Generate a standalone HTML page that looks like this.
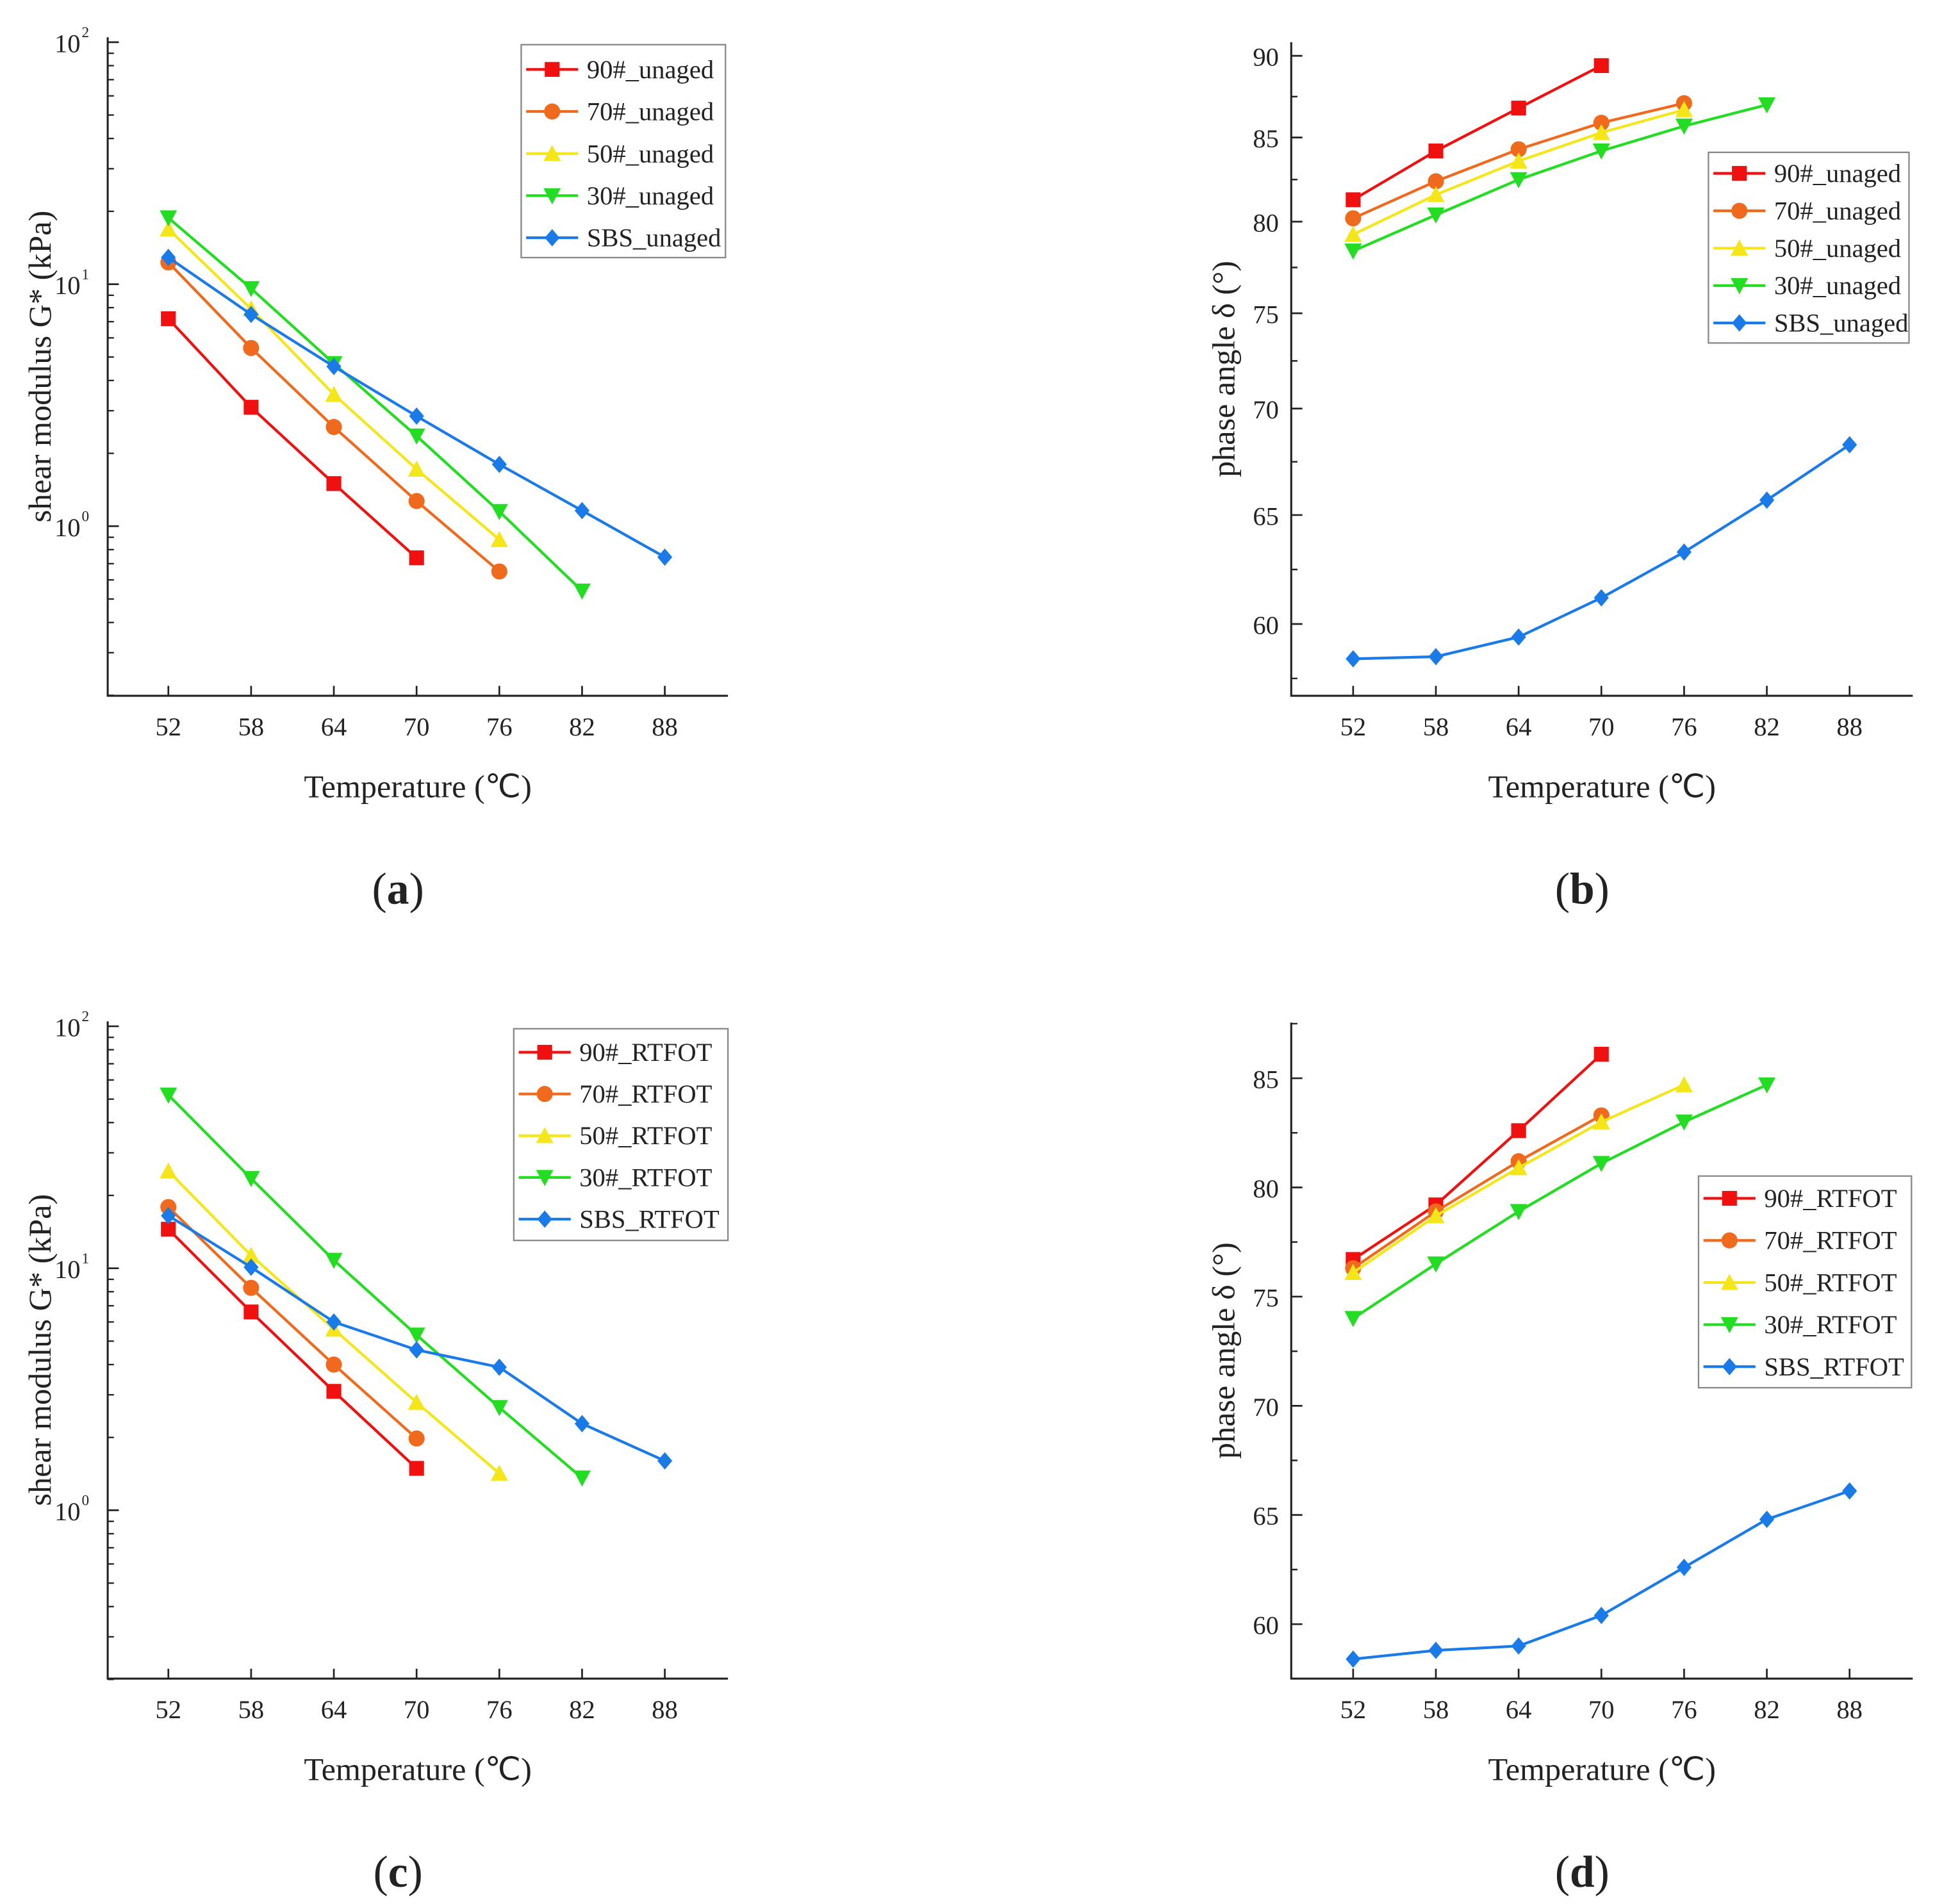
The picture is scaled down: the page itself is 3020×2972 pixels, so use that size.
<!DOCTYPE html>
<html><head><meta charset="utf-8">
<style>
html,body{margin:0;padding:0;background:#fff;}
svg{display:block;}
text{font-family:"Liberation Serif",serif;fill:#222;}
</style></head>
<body>
<svg id="fig" width="3020" height="2972" viewBox="0 0 1563 1538" xmlns="http://www.w3.org/2000/svg"></svg>
<script>
// ---- data ----
const temps = [52, 58, 64, 70, 76, 82, 88];
const seriesNames = ['90#', '70#', '50#', '30#', 'SBS'];
// panel a: G* unaged (kPa)
const gUnaged90 = [7.2, 3.1, 1.5, 0.74];
const gUnaged70 = [12.3, 5.45, 2.57, 1.27, 0.65];
const gUnaged50 = [16.9, 7.9, 3.5, 1.72, 0.88];
const gUnaged30 = [18.8, 9.6, 4.7, 2.36, 1.15, 0.54];
const gUnagedSBS = [12.9, 7.5, 4.57, 2.85, 1.8, 1.16, 0.745];
// panel b: phase angle unaged
const pUnaged90 = [81.3, 84.2, 86.8, 89.4];
const pUnaged70 = [80.2, 82.4, 84.3, 85.9, 87.1];
const pUnaged50 = [79.3, 81.6, 83.6, 85.3, 86.7];
const pUnaged30 = [78.4, 80.4, 82.5, 84.2, 85.7, 87.0];
const pUnagedSBS = [58.4, 58.5, 59.4, 61.2, 63.3, 65.7, 68.3];
// panel c: G* RTFOT
const gRtfot90 = [14.5, 6.6, 3.1, 1.49];
const gRtfot70 = [17.9, 8.3, 4.0, 1.98];
const gRtfot50 = [25.2, 11.3, 5.6, 2.79, 1.42];
const gRtfot30 = [52, 23.5, 10.8, 5.3, 2.66, 1.36];
const gRtfotSBS = [16.5, 10.1, 6.0, 4.6, 3.9, 2.28, 1.6];
// panel d: phase angle RTFOT
const pRtfot90 = [76.7, 79.2, 82.6, 86.1];
const pRtfot70 = [76.3, 78.9, 81.2, 83.3];
const pRtfot50 = [76.1, 78.7, 80.9, 83.0, 84.7];
const pRtfot30 = [74.0, 76.5, 78.9, 81.1, 83.0, 84.7];
const pRtfotSBS = [58.4, 58.8, 59.0, 60.4, 62.6, 64.8, 66.1];
// tick labels
const phaseTicksB = [60, 65, 70, 75, 80, 85, 90];
const phaseTicksD = [60, 65, 70, 75, 80, 85];
const logTicks = [0, 1, 2];

const colors = ['#f01010', '#f06a1e', '#f5e61a', '#22dd22', '#1a7ae8'];
const markers = ['square', 'circle', 'up', 'down', 'diamond'];
const NS = 'http://www.w3.org/2000/svg';
const svg = document.getElementById('fig');
function mk(tag, attrs, parent) {
  const e = document.createElementNS(NS, tag);
  for (const k in attrs) e.setAttribute(k, attrs[k]);
  (parent || svg).appendChild(e);
  return e;
}
function marker(g, type, x, y, c) {
  const s = 6;
  let e;
  if (type === 'square') e = mk('rect', {x: x - s, y: y - s, width: 2 * s, height: 2 * s, fill: c}, g);
  else if (type === 'circle') e = mk('circle', {cx: x, cy: y, r: s + 0.5, fill: c}, g);
  else if (type === 'up') e = mk('polygon', {points: `${x},${y - s - 1} ${x - s - 1},${y + s} ${x + s + 1},${y + s}`, fill: c}, g);
  else if (type === 'down') e = mk('polygon', {points: `${x},${y + s + 1} ${x - s - 1},${y - s} ${x + s + 1},${y - s}`, fill: c}, g);
  else e = mk('polygon', {points: `${x},${y - s - 1} ${x + s},${y} ${x},${y + s + 1} ${x - s},${y}`, fill: c}, g);
  
  
}

function panel(o) {
  const g = mk('g', {});
  
  
  const xS = t => o.x52 + (t - 52) * (o.x88 - o.x52) / 36;
  const yS = o.yS;
  // axes
  const ax = mk('path', {d: `M${o.left},${o.top} L${o.left},${o.bottom} L${o.right},${o.bottom}`, stroke: '#222', 'stroke-width': 1.6, fill: 'none'}, g);
  
  
  // x ticks
  temps.forEach(t => {
    const x = xS(t);
    mk('line', {x1: x, y1: o.bottom, x2: x, y2: o.bottom - 8, stroke: '#222', 'stroke-width': 1.4}, g);
    const tx = mk('text', {x: x, y: o.bottom + 32, 'font-size': 21, 'text-anchor': 'middle'}, g);
    tx.textContent = t;
    
    
  });
  const xt = mk('text', {x: (o.left + o.right) / 2, y: o.bottom + 82, 'font-size': 26, 'text-anchor': 'middle'}, g);
  xt.textContent = 'Temperature (℃)';
  
  
  // y ticks
  o.yTicks(g, yS);
  const yt = mk('text', {x: 0, y: 0, 'font-size': 26, 'text-anchor': 'middle', transform: `translate(${o.left - 46},${(o.top + o.bottom) / 2}) rotate(-90)`}, g);
  yt.textContent = o.ytitle;
  
  
  // series
  o.series.forEach((vals, i) => {
    const pts = vals.map((v, j) => [xS(temps[j]), yS(v)]);
    const pl = mk('polyline', {points: pts.map(p => p.join(',')).join(' '), fill: 'none', stroke: colors[i], 'stroke-width': 2.2}, g);
    
    
    pts.forEach(p => marker(g, markers[i], p[0], p[1], colors[i]));
  });
  // legend
  const L = o.legend;
  const lg = mk('g', {}, g);
  
  
  mk('rect', {x: L.x, y: L.y, width: L.w, height: L.h, fill: '#fff', stroke: '#888', 'stroke-width': 1.2}, lg);
  seriesNames.forEach((n, i) => {
    const cy = L.y + L.first + i * L.step;
    mk('line', {x1: L.x + 4, y1: cy, x2: L.x + 46, y2: cy, stroke: colors[i], 'stroke-width': 2.2}, lg);
    marker(lg, markers[i], L.x + 25, cy, colors[i]);
    const t = mk('text', {x: L.x + 53, y: cy + 7, 'font-size': 21}, lg);
    t.textContent = n + '_' + o.suffix;
    
    
  });
  const lab = mk('text', {x: (o.left + o.right) / 2 - 16, y: o.bottom + 168, 'font-size': 36, 'text-anchor': 'middle'}, g);
  lab.innerHTML = '(<tspan font-weight="bold">' + o.label + '</tspan>)';
  
  
}

function logYTicks(y10, dec, left) {
  return function (g) {
    for (let e = -1; e <= 1; e++) {
      for (let m = 2; m <= 9; m++) {
        const y = y10 - dec * (e + Math.log10(m));
        if (y > y10 - 2 * dec - 1 && y < y10 + 0.75 * dec) mk('line', {x1: left, y1: y, x2: left + 5, y2: y, stroke: '#222', 'stroke-width': 1.2}, g);
      }
    }
    logTicks.forEach(e => {
      const y = y10 - dec * e;
      mk('line', {x1: left, y1: y, x2: left + 9, y2: y, stroke: '#222', 'stroke-width': 1.4}, g);
      const t = mk('text', {x: left - 22, y: y + 8, 'font-size': 21, 'text-anchor': 'end'}, g);
      t.textContent = '10';
      
      
      const s = mk('text', {x: left - 21, y: y - 4, 'font-size': 12}, g);
      s.textContent = e;
    });
  };
}
function linYTicks(ticks, pos, left) {
  return function (g, yS) {
    ticks.forEach(v => {
      const y = yS(v);
      mk('line', {x1: left, y1: y, x2: left + 9, y2: y, stroke: '#222', 'stroke-width': 1.4}, g);
      const ym = yS(v + 2.5);
      if (ym > pos.top) mk('line', {x1: left, y1: ym, x2: left + 5, y2: ym, stroke: '#222', 'stroke-width': 1.2}, g);
      const yb = yS(v - 2.5);
      if (yb < pos.bottom) mk('line', {x1: left, y1: yb, x2: left + 5, y2: yb, stroke: '#222', 'stroke-width': 1.2}, g);
      const t = mk('text', {x: left - 10, y: y + 8, 'font-size': 21, 'text-anchor': 'end'}, g);
      t.textContent = v;
      
      
    });
  };
}
function interp(vals, ys) {
  return function (v) {
    let i = 0;
    while (i < vals.length - 2 && v > vals[i + 1]) i++;
    return ys[i] + (v - vals[i]) * (ys[i + 1] - ys[i]) / (vals[i + 1] - vals[i]);
  };
}

// panel a
const yA = v => 425 - 195.5 * Math.log10(v);
panel({name: 'panel-a', left: 87, right: 588, top: 30, bottom: 562, x52: 136, x88: 537, yS: yA,
  yTicks: logYTicks(425, 195.5, 87), ytitle: 'shear modulus G* (kPa)',
  series: [gUnaged90, gUnaged70, gUnaged50, gUnaged30, gUnagedSBS], suffix: 'unaged', label: 'a',
  legend: {x: 421, y: 36, w: 165, h: 172, first: 20, step: 34}});
// panel b (nonlinear printed axis; map via tick positions)
const yB = interp([55, 60, 65, 70, 75, 80, 85, 90, 95], [592, 504, 416, 330, 253, 179, 111, 45, -21]);
panel({name: 'panel-b', left: 1043, right: 1545, top: 34, bottom: 562, x52: 1093, x88: 1494, yS: yB,
  yTicks: linYTicks(phaseTicksB, {top: 34, bottom: 562}, 1043), ytitle: 'phase angle δ (°)',
  series: [pUnaged90, pUnaged70, pUnaged50, pUnaged30, pUnagedSBS], suffix: 'unaged', label: 'b',
  legend: {x: 1380, y: 123, w: 162, h: 154, first: 17, step: 30.2}});
// panel c
const yC = v => 1220 - 195.5 * Math.log10(v);
panel({name: 'panel-c', left: 87, right: 588, top: 825, bottom: 1356, x52: 136, x88: 537, yS: yC,
  yTicks: logYTicks(1220, 195.5, 87), ytitle: 'shear modulus G* (kPa)',
  series: [gRtfot90, gRtfot70, gRtfot50, gRtfot30, gRtfotSBS], suffix: 'RTFOT', label: 'c',
  legend: {x: 415, y: 831, w: 173, h: 171, first: 19, step: 33.7}});
// panel d
const yD = v => 1312 - (v - 60) * 88.2 / 5;
panel({name: 'panel-d', left: 1043, right: 1545, top: 826, bottom: 1356, x52: 1093, x88: 1494, yS: yD,
  yTicks: linYTicks(phaseTicksD, {top: 826, bottom: 1356}, 1043), ytitle: 'phase angle δ (°)',
  series: [pRtfot90, pRtfot70, pRtfot50, pRtfot30, pRtfotSBS], suffix: 'RTFOT', label: 'd',
  legend: {x: 1372, y: 950, w: 172, h: 171, first: 18, step: 34}});
</script>
</body></html>
